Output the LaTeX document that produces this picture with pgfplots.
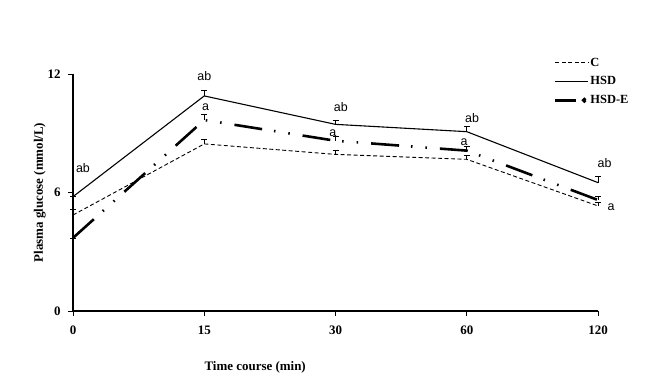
\documentclass[border=0pt]{standalone}
\usepackage{fontspec}
\setmainfont{Liberation Serif}
\newfontfamily\arial{Liberation Sans}
\usepackage{pgfplots}
\pgfplotsset{compat=1.18}
\begin{document}
\begin{tikzpicture}[x=1bp,y=1bp]
\useasboundingbox (0,0) rectangle (669,387);
\begin{axis}[
  at={(73bp,76bp)}, anchor=south west,
  scale only axis, width=525bp, height=237bp,
  xmin=0, xmax=4, ymin=0, ymax=12,
  axis lines=left, axis line style={line width=1.3pt, -},
  xtick={0,1,2,3,4}, xticklabels={0,15,30,60,120},
  ytick={0,6,12},
  tick align=outside, major tick length=5bp,
  tick style={black, line width=0.8pt},
  /pgf/number format/assume math mode=true,
  tick label style={font=\fontsize{13}{14}\selectfont\bfseries},
  xticklabel style={yshift=-6bp},
  yticklabel style={xshift=-4bp},
  xlabel={Time course (min)},
  ylabel={Plasma glucose (mmol/L)},
  label style={font=\fontsize{13}{14}\selectfont\bfseries},
  xlabel style={at={(axis description cs:0.347,0)}, anchor=center, yshift=-56bp},
  ylabel style={at={(axis description cs:-0.063,0.5)}, anchor=center},
  clip=false,
  legend style={draw=none, fill=none, inner sep=0pt, at={(axis description cs:0.916,1.075)}, anchor=north west, font=\fontsize{12.5}{13}\selectfont\bfseries, row sep=6bp, legend cell align=left,
    nodes={inner sep=1.5bp}},
  legend image code/.code={\draw[#1] (0bp,0bp) -- (33bp,0bp);},
  error bars/y dir=plus, error bars/y explicit,
  error bars/error mark options={rotate=90, mark size=3bp, line width=0.6pt, black},
  error bars/error bar style={line width=0.6pt, black, solid},
]
\addplot[black, line width=0.9pt, dash pattern=on 4bp off 2.5bp, no marks] coordinates {
 (0,4.86) +- (0,0.3) (1,8.46) +- (0,0.25) (2,7.93) +- (0,0.22) (3,7.68) +- (0,0.22) (4,5.32) +- (0,0.2)};
\addlegendentry{C}
\addplot[black, line width=1.1pt, solid, no marks] coordinates {
 (0,5.79) +- (0,0.0) (1,10.89) +- (0,0.28) (2,9.45) +- (0,0.2) (3,9.08) +- (0,0.28) (4,6.5) +- (0,0.3)};
\addlegendentry{HSD}
\addplot[black, line width=2.6pt, dash pattern=on 28bp off 12bp on 1.5bp off 13bp on 1.5bp off 13bp, no marks,
  legend image code/.code={\draw[black, line width=2.6pt] (0bp,0bp) -- (21bp,0bp); \fill[black] (29bp,0bp) circle (1.1bp);}] coordinates {
 (0,3.70) +- (0,0.0) (1,9.67) +- (0,0.3) (2,8.62) +- (0,0.24) (3,8.12) +- (0,0.22) (4,5.62) +- (0,0.2)};
\addlegendentry{HSD-E}
\begin{scope}[every node/.style={font=\arial\fontsize{12.5}{13}\selectfont, inner sep=0pt}]
\node at (axis cs:0.076,7.24) {ab};
\node at (axis cs:1,11.9) {ab};
\node at (axis cs:1.01,10.33) {a};
\node at (axis cs:2.04,10.33) {ab};
\node at (axis cs:1.98,9.0) {a};
\node at (axis cs:3.04,9.77) {ab};
\node at (axis cs:2.98,8.56) {a};
\node at (axis cs:4.05,7.49) {ab};
\node at (axis cs:4.1,5.27) {a};
\end{scope}
\end{axis}
\end{tikzpicture}
\end{document}
